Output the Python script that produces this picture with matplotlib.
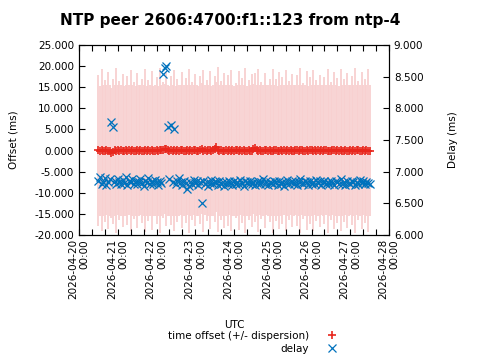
import matplotlib.pyplot as plt
import matplotlib.dates as mdates
import numpy as np
import pandas as pd
from matplotlib.lines import Line2D
from matplotlib.ticker import FormatStrFormatter, MultipleLocator


title = 'NTP peer 2606:4700:f1::123 from ntp-4'
labels = ['time offset (+/- dispersion)', 'delay']

# hourly samples, 2026-04-20 12:00 .. 2026-04-27 12:00 UTC
times = pd.date_range('2026-04-20 12:00', '2026-04-27 12:00', freq='h')

offset_ms = [
    0.02, -0.03, 0.05, 0.00, -0.06, 0.03, 0.01, -0.04, -0.55, -0.30, 0.02, -0.05,
    0.04, -0.02, 0.06, 0.00, -0.04, 0.03, -0.01, 0.05, -0.03, 0.02, 0.00, -0.05,
    0.03, -0.02, 0.05, -0.04, 0.01, 0.04, -0.03, 0.02, -0.05, 0.03, 0.00, -0.02,
    0.05, -0.03, 0.02, 0.06, 0.20, 0.45, 0.30, 0.10, -0.02, 0.04, -0.05, 0.02,
    0.00, 0.05, -0.03, 0.02, 0.04, -0.04, 0.01, 0.06, -0.02, 0.03, -0.05, 0.02,
    0.04, -0.03, 0.00, 0.05, 0.45, -0.02, 0.03, -0.04, 0.02, 0.06, -0.01, 0.03,
    0.35, 0.90, 0.25, -0.03, 0.04, 0.01, -0.05, 0.03, 0.00, 0.04, -0.02, 0.05,
    -0.03, 0.02, 0.04, -0.01, 0.03, -0.04, 0.05, 0.01, -0.02, 0.04, 0.00, -0.03,
    0.40, 0.65, 0.05, -0.02, 0.03, 0.00, -0.04, 0.05, 0.02, -0.03, 0.04, 0.01,
    -0.02, 0.03, 0.05, -0.04, 0.01, 0.04, -0.03, 0.02, 0.00, 0.05, -0.02, 0.03,
    0.01, -0.04, 0.03, 0.05, -0.02, 0.02, 0.04, -0.03, 0.00, 0.03, -0.05, 0.02,
    0.04, -0.01, 0.02, -0.03, 0.05, 0.00, 0.03, -0.04, 0.02, 0.04, -0.02, 0.01,
    -0.03, 0.05, 0.02, -0.01, 0.03, -0.04, 0.04, 0.00, -0.02, 0.05, 0.01, -0.03,
    0.03, 0.00, 0.04, -0.02, 0.02, 0.05, -0.03, 0.01, 0.03, -0.04, 0.02, 0.00, 0.01,
]

dispersion_ms = [
    17.8, 15.4, 19.2, 15.5, 16.8, 15.4, 18.6, 15.5, 15.4, 17.2, 15.5, 19.5,
    15.4, 16.4, 15.5, 18.1, 15.4, 15.5, 17.6, 15.4, 19.0, 15.5, 16.2, 15.4,
    18.4, 15.5, 15.4, 17.0, 15.5, 19.3, 15.4, 16.6, 15.5, 18.8, 15.4, 15.5,
    17.4, 15.4, 19.6, 15.5, 16.1, 15.4, 18.2, 15.5, 15.4, 17.7, 15.5, 19.1,
    15.4, 16.9, 15.5, 15.4, 18.5, 15.5, 17.1, 15.4, 19.4, 15.5, 16.3, 15.4,
    18.0, 15.5, 15.4, 17.5, 15.5, 19.2, 15.4, 16.7, 15.5, 18.7, 15.4, 15.5,
    17.3, 15.4, 19.5, 15.5, 16.5, 15.4, 18.3, 15.5, 17.8, 15.4, 19.0, 15.5,
    15.4, 16.0, 15.5, 18.9, 15.4, 17.2, 15.5, 19.6, 15.4, 16.6, 15.5, 18.1,
    15.4, 17.6, 15.5, 19.3, 15.4, 16.2, 15.5, 18.4, 15.4, 15.5, 17.0, 15.4,
    19.4, 15.5, 16.8, 15.4, 18.6, 15.5, 17.4, 15.4, 19.1, 15.5, 16.4, 15.4,
    18.2, 15.5, 15.4, 17.9, 15.5, 19.5, 15.4, 16.1, 15.5, 18.8, 15.4, 17.3,
    15.5, 19.0, 15.4, 16.7, 15.5, 18.0, 15.4, 15.5, 17.5, 15.4, 19.4, 15.5,
    16.3, 15.4, 18.5, 15.5, 17.1, 15.4, 19.2, 15.5, 16.9, 15.4, 18.3, 15.5,
    15.4, 17.7, 15.5, 19.6, 15.4, 16.5, 15.5, 18.7, 15.4, 17.0, 15.5, 19.3, 15.4,
]

delay_ms = [
    6.86, 6.92, 6.80, 6.84, 6.90, 6.79, 6.83, 6.88, 7.78, 7.70, 6.85, 6.81,
    6.89, 6.84, 6.80, 6.87, 6.82, 6.91, 6.79, 6.85, 6.83, 6.88, 6.81, 6.86,
    6.80, 6.84, 6.89, 6.82, 6.78, 6.86, 6.83, 6.90, 6.80, 6.85, 6.81, 6.87,
    6.83, 6.79, 6.86, 6.82, 8.55, 8.64, 8.67, 7.70, 6.88, 7.74, 6.84, 7.68,
    6.81, 6.85, 6.90, 6.83, 6.79, 6.86, 6.82, 6.72, 6.77, 6.84, 6.80, 6.87,
    6.82, 6.85, 6.79, 6.83, 6.50, 6.86, 6.81, 6.84, 6.78, 6.82, 6.87, 6.80,
    6.85, 6.83, 6.79, 6.86, 6.81, 6.84, 6.78, 6.83, 6.80, 6.85, 6.82, 6.79,
    6.86, 6.81, 6.84, 6.80, 6.87, 6.82, 6.78, 6.85, 6.83, 6.80, 6.86, 6.81,
    6.84, 6.79, 6.82, 6.86, 6.80, 6.83, 6.88, 6.81, 6.85, 6.79, 6.84, 6.82,
    6.80, 6.86, 6.83, 6.79, 6.85, 6.81, 6.84, 6.78, 6.82, 6.87, 6.80, 6.83,
    6.85, 6.81, 6.86, 6.79, 6.83, 6.88, 6.82, 6.80, 6.85, 6.83, 6.79, 6.86,
    6.81, 6.84, 6.80, 6.87, 6.82, 6.85, 6.79, 6.83, 6.86, 6.80, 6.84, 6.81,
    6.85, 6.82, 6.79, 6.86, 6.83, 6.80, 6.88, 6.81, 6.84, 6.79, 6.85, 6.82,
    6.80, 6.86, 6.83, 6.79, 6.84, 6.81, 6.87, 6.82, 6.85, 6.80, 6.84, 6.82, 6.81,
]

RED = '#e8261c'
BLUE = '#0072bd'
BAND = '#f8d0d0'
FS = 7.5

off = np.array(offset_ms)
disp = np.array(dispersion_ms)

fig = plt.figure(figsize=(4.8, 3.6), dpi=100)
ax = fig.add_axes([79 / 480, 125 / 360, 310 / 480, 190 / 360])

# error bars drawn as thin vertical lines, side by side they form the band
ax.vlines(times, off - disp, off + disp, color=BAND, lw=1.3, zorder=1)
ax.plot(times, off, ls='none', marker='+', color=RED, ms=5.5, mew=1.2, zorder=3)

ax2 = ax.twinx()
ax2.plot(times, delay_ms, ls='none', marker='x', color=BLUE, ms=5.5, mew=0.9)

ax.set_xlim(pd.Timestamp('2026-04-20'), pd.Timestamp('2026-04-28'))
ax.xaxis.set_major_locator(mdates.DayLocator())
ax.xaxis.set_minor_locator(mdates.HourLocator(byhour=[8, 16]))
ax.xaxis.set_major_formatter(mdates.DateFormatter('%Y-%m-%d\n%H:%M'))
for lab in ax.get_xticklabels():
    lab.set_rotation(90)
    lab.set_multialignment('right')

ax.set_ylim(-20, 25)
ax.yaxis.set_major_locator(MultipleLocator(5))
ax.yaxis.set_major_formatter(FormatStrFormatter('%.3f'))
ax2.set_ylim(6, 9)
ax2.yaxis.set_major_locator(MultipleLocator(0.5))
ax2.yaxis.set_major_formatter(FormatStrFormatter('%.3f'))

ax.tick_params(axis='x', which='both', direction='in', top=True, length=4,
               width=0.8, labelsize=FS, pad=3)
ax.tick_params(axis='y', direction='in', length=4, width=0.8, labelsize=FS,
               right=False)
ax2.tick_params(axis='y', direction='in', length=4, width=0.8, labelsize=FS)

fig.text(230 / 480, 1 - 20 / 360, title, ha='center', va='center',
         fontsize=11, fontweight='bold')
fig.text(13 / 480, 1 - 140 / 360, 'Offset (ms)', rotation=90,
         ha='center', va='center', fontsize=FS)
fig.text(453 / 480, 1 - 140 / 360, 'Delay (ms)', rotation=90,
         ha='center', va='center', fontsize=FS)
fig.text(234 / 480, 1 - 325 / 360, 'UTC', ha='center', va='center', fontsize=FS)

handles = [
    Line2D([], [], ls='none', marker='+', color=RED, ms=5.5, mew=1.2),
    Line2D([], [], ls='none', marker='x', color=BLUE, ms=5.5, mew=0.9),
]
fig.legend(handles, labels, loc='upper right',
           bbox_to_anchor=(340 / 480, 1 - 331 / 360), markerfirst=False,
           frameon=False, fontsize=FS, handlelength=1.5, handletextpad=1.5,
           labelspacing=0.3, borderpad=0, borderaxespad=0)

fig.savefig('out.png', dpi=100)
